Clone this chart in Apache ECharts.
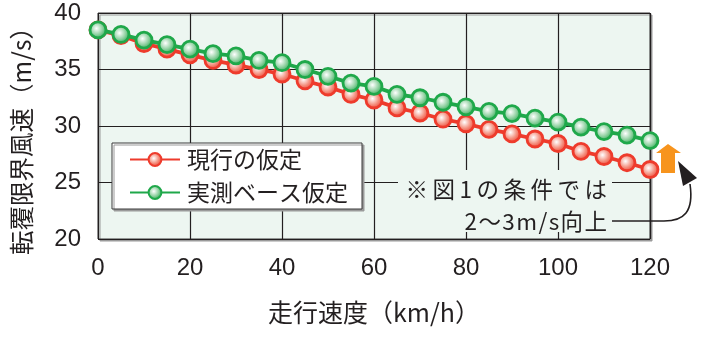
<!DOCTYPE html>
<html>
<head>
<meta charset="utf-8">
<style>
  html, body { margin: 0; padding: 0; background: #ffffff; }
  #chart { width: 712px; height: 340px; }
</style>
<script src="https://cdn.jsdelivr.net/npm/echarts@6/dist/echarts.min.js"></script>
</head>
<body>
<div id="chart"></div>
<script>
// Running speed (km/h)
const speeds = [0, 5, 10, 15, 20, 25, 30, 35, 40, 45, 50, 55, 60,
                65, 70, 75, 80, 85, 90, 95, 100, 105, 110, 115, 120];
// Critical overturning wind speed (m/s) under the current assumption
const currentAssumption = [38.5, 38.0, 37.3, 36.8, 36.3, 35.8, 35.4, 35.0, 34.6, 34.0, 33.45, 32.8, 32.3,
                           31.6, 31.15, 30.6, 30.2, 29.7, 29.3, 28.85, 28.45, 27.75, 27.3, 26.75, 26.15];
// Critical overturning wind speed (m/s) under the measurement-based assumption
const measuredAssumption = [38.5, 38.1, 37.6, 37.2, 36.8, 36.4, 36.2, 35.8, 35.6, 35.0, 34.4, 33.8, 33.5,
                            32.8, 32.5, 32.1, 31.7, 31.3, 31.1, 30.7, 30.35, 29.9, 29.5, 29.2, 28.7];
const seriesNames = ['現行の仮定', '実測ベース仮定'];
const xTicks = [0, 20, 40, 60, 80, 100, 120];
const yTicks = [20, 25, 30, 35, 40];
const noteLines = ['※図1の条件では', '2～3m/s向上'];

const TXT = '#231f20';
const PLOT_BG = '#edf6f1';
const FONT = '"Noto Sans CJK JP", "Liberation Sans", sans-serif';
const NUM_FONT = '"Liberation Sans", sans-serif';

// loosen the note lettering with narrow spaces between glyphs
const spaced = (s, gap) => Array.from(s).join(gap);

function marker(edge, mid) {
  return {
    color: {
      type: 'radial', x: 0.42, y: 0.42, r: 0.6,
      colorStops: [
        { offset: 0, color: '#ffffff' },
        { offset: 0.55, color: mid },
        { offset: 1, color: edge }
      ]
    },
    borderColor: edge,
    borderWidth: 2.8
  };
}

const red = '#ee3b2c';
const green = '#1fa84a';

const chart = echarts.init(document.getElementById('chart'), null, { renderer: 'canvas' });

chart.setOption({
  animation: false,
  textStyle: { fontFamily: FONT, color: TXT },
  grid: {
    left: 98, right: 62, top: 13, bottom: 101,
    show: true,
    backgroundColor: PLOT_BG,
    borderColor: '#3a3a3a',
    borderWidth: 1,
    shadowColor: '#9a9a9a',
    shadowBlur: 0,
    shadowOffsetX: 2,
    shadowOffsetY: 2
  },
  legend: {
    left: 112, top: 143,
    orient: 'vertical',
    data: seriesNames,
    backgroundColor: '#ffffff',
    borderColor: '#3a3a3a',
    borderWidth: 1,
    shadowColor: '#9a9a9a',
    shadowBlur: 0,
    shadowOffsetX: 2,
    shadowOffsetY: 2,
    padding: [5, 14, 5, 17],
    itemWidth: 50,
    itemHeight: 16,
    itemGap: 10,
    textStyle: { fontSize: 23, color: TXT, fontFamily: FONT, padding: [0, 0, 0, 2] }
  },
  xAxis: {
    type: 'value',
    min: 0, max: 120, interval: 20,
    name: '走行速度（km/h）',
    nameLocation: 'middle',
    nameGap: 61,
    nameTextStyle: { fontSize: 25, color: TXT, fontFamily: FONT },
    axisLine: { show: false },
    axisTick: { show: false },
    axisLabel: {
      margin: 17, fontSize: 24, color: TXT, fontFamily: NUM_FONT,
      formatter: v => xTicks.includes(v) ? String(v) : ''
    },
    splitLine: { show: true, lineStyle: { color: '#231f20', width: 1.2 } }
  },
  yAxis: {
    type: 'value',
    min: 20, max: 40, interval: 5,
    name: '転覆限界風速（m/s）',
    nameLocation: 'middle',
    nameGap: 64,
    nameTextStyle: { fontSize: 24.5, color: TXT, fontFamily: FONT, padding: [0, 18, 0, 0] },
    axisLine: { show: false },
    axisTick: { show: false },
    axisLabel: {
      margin: 17, fontSize: 24, color: TXT, fontFamily: NUM_FONT,
      formatter: v => yTicks.includes(v) ? String(v) : ''
    },
    splitLine: { show: true, lineStyle: { color: '#231f20', width: 1.2 } }
  },
  series: [
    {
      name: seriesNames[0],
      type: 'line',
      data: speeds.map((s, i) => [s, currentAssumption[i]]),
      symbol: 'circle',
      symbolSize: 16,
      lineStyle: { color: red, width: 3.8 },
      itemStyle: marker(red, '#f4907f'),
      z: 3
    },
    {
      name: seriesNames[1],
      type: 'line',
      data: speeds.map((s, i) => [s, measuredAssumption[i]]),
      symbol: 'circle',
      symbolSize: 16,
      lineStyle: { color: green, width: 3.8 },
      itemStyle: marker(green, '#8fd0a0'),
      z: 4
    }
  ],
  graphic: [
    // backdrop behind the note so grid lines stop around it
    {
      type: 'rect', z: 5,
      shape: { x: 398, y: 170, width: 214, height: 62 },
      style: { fill: PLOT_BG }
    },
    {
      type: 'text', z: 6,
      x: 607, y: 189,
      style: {
        text: spaced(noteLines[0], '\u2009'),
        font: '22.5px ' + FONT,
        fill: TXT,
        align: 'right',
        verticalAlign: 'middle'
      }
    },
    {
      type: 'text', z: 6,
      x: 607, y: 221,
      style: {
        text: spaced(noteLines[1], '\u200A'),
        font: '22.5px ' + FONT,
        fill: TXT,
        align: 'right',
        verticalAlign: 'middle'
      }
    },
    // leader line curving up to the arrow head
    {
      type: 'line', z: 6,
      shape: { x1: 612, y1: 221, x2: 664, y2: 221 },
      style: { stroke: '#231f20', lineWidth: 1.6 }
    },
    {
      type: 'bezierCurve', z: 6,
      shape: { x1: 664, y1: 221, cpx1: 684, cpy1: 221, cpx2: 694, cpy2: 212, x2: 690, y2: 184 },
      style: { stroke: '#231f20', lineWidth: 1.6, fill: null }
    },
    {
      type: 'polygon', z: 6,
      shape: { points: [[678, 161], [697, 178], [683, 186]] },
      style: { fill: '#231f20' }
    },
    // orange up-arrow showing the increase
    {
      type: 'polygon', z: 6,
      shape: { points: [[668, 144], [681, 153], [675, 153], [675, 173], [661, 173], [661, 153], [656, 153]] },
      style: { fill: '#f7941d' }
    }
  ]
});
</script>
</body>
</html>
